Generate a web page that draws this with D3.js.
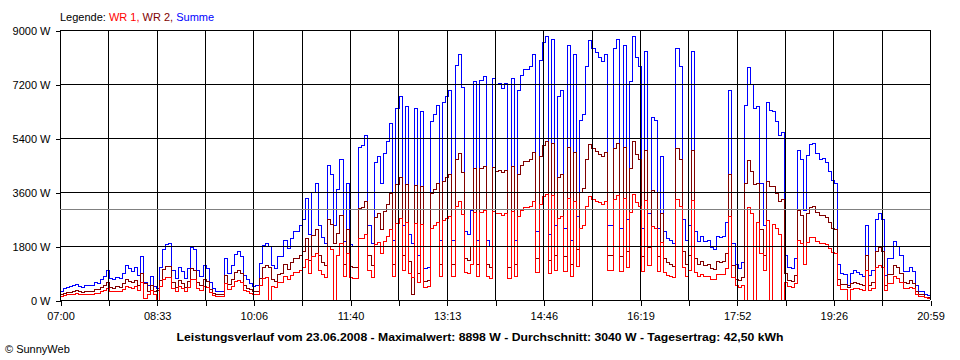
<!DOCTYPE html>
<html><head><meta charset="utf-8">
<script src="https://cdn.jsdelivr.net/npm/d3@7"></script>
<style>
html,body{margin:0;padding:0;background:#fff;}
svg{display:block;font-family:"Liberation Sans",Arial,sans-serif;}
</style></head><body>
<svg id="chart" width="960" height="360"></svg>
<script>
// ---- data ----
const stepMinutes = 3;            // sample interval, minutes after 07:00
const dayMinutes = 839;           // 07:00 .. 20:59
const xTickLabels = ["07:00","08:33","10:06","11:40","13:13","14:46","16:19","17:52","19:26","20:59"];
const yTicks = [0,1800,3600,5400,7200,9000];
const seriesNames = ["WR 1","WR 2","Summe"];
const average = 3040;
const titleText = "Leistungsverlauf vom 23.06.2008 - Maximalwert: 8898 W - Durchschnitt: 3040 W - Tagesertrag: 42,50 kWh";

const wr1 = [110,150,170,180,190,210,180,170,200,200,
200,230,220,280,320,400,290,270,300,290,
360,460,420,380,440,330,580,50,200,310,
180,0,440,680,740,750,400,290,440,380,
290,420,700,670,400,310,460,420,240,160,
110,110,110,550,360,460,610,640,580,330,
270,220,180,200,490,730,760,0,460,420,
580,580,800,690,820,910,920,1000,1080,1360,
880,1440,1560,1000,840,760,1800,1680,0,1480,
1880,780,1560,740,710,720,2040,2060,2200,1000,
760,1840,1920,1560,1960,2120,2360,800,2560,2710,
1000,2580,870,760,2560,600,2510,420,440,2380,
2470,2600,800,2640,2710,2800,800,3130,3270,2840,
920,880,1200,2910,800,2930,2980,800,720,2960,
2870,2890,2820,2890,720,2960,800,2800,3000,3080,
3080,3120,3280,920,3200,3440,3520,880,3480,1000,
2720,2800,960,3400,800,3280,1120,2400,2480,3120,
3460,3360,3300,3240,3180,3280,1000,1000,3360,3480,
960,3400,1080,2920,3520,3240,3120,960,3320,1160,
2440,2400,960,1920,910,820,800,760,3360,3120,
1080,800,1000,3320,920,780,850,780,800,700,
680,840,840,840,1040,2800,760,470,420,500,
0,3100,2870,0,2580,1560,1000,2640,0,2510,
2380,2200,0,600,440,420,560,2000,1880,1200,
1930,2070,2090,1960,1880,1890,1840,1720,1600,1560,
470,360,340,0,360,400,370,340,310,1000,
330,400,1080,1160,1080,330,560,560,780,710,
600,380,380,430,380,200,120,120,70,60,
10];

const wr2 = [170,230,250,260,280,310,270,250,300,300,
300,350,340,410,480,600,430,400,440,430,
540,690,630,570,650,500,880,550,300,470,
270,330,660,1020,1110,1130,600,430,660,560,
430,630,1050,1000,600,470,700,630,360,230,
170,170,170,830,530,700,920,970,880,500,
400,340,270,300,730,1100,1140,1070,700,630,
860,870,1200,1030,1240,1370,1380,1500,1620,2040,
1320,2160,2340,1500,1260,1140,2700,2520,1900,2220,
2820,1170,2340,1110,1070,1080,3060,3090,3300,1500,
1140,2760,2880,2340,2940,3180,3540,1200,3840,4070,
1500,3860,1300,200,3830,900,3770,630,660,3560,
3700,3900,1200,3960,4070,4200,1200,4700,4900,4260,
1380,1320,1800,4370,1200,4400,4460,1200,1080,4430,
4300,4330,4240,4330,1080,4440,1200,4200,4500,4620,
4620,4680,4920,1380,4800,5160,5280,1320,5220,1500,
4080,4200,1440,5100,1200,4920,1680,3600,3720,4680,
5190,5040,4950,4860,4770,4920,1500,1500,5040,5220,
1440,5100,1620,4380,5280,4860,4680,1440,4980,1740,
3660,3600,1440,2880,1370,1240,1200,1130,5040,4680,
1620,1200,1500,4980,1380,1170,1270,1160,1200,1050,
1020,1270,1260,1270,1560,4200,1140,700,640,750,
3900,4650,4300,3840,3870,2340,1500,3960,3800,3770,
3560,3300,3360,900,660,630,830,3000,2820,1800,
2900,3100,3130,2930,2820,2830,2760,2580,2400,2340,
700,530,520,420,540,600,550,520,470,1500,
500,600,1620,1740,1620,500,840,840,1160,1070,
900,570,560,650,560,300,180,180,100,80,
20];

const summe = [280,380,420,440,470,520,450,420,500,500,
500,580,560,690,800,1000,720,670,740,720,
900,1150,1050,950,1090,830,1460,600,500,780,
450,390,1100,1700,1850,1880,1000,720,1100,940,
720,1050,1750,1670,1000,780,1160,1050,600,390,
280,280,280,1380,890,1160,1530,1610,1460,830,
670,560,450,500,1220,1830,1900,1780,1160,1050,
1440,1450,2000,1720,2060,2280,2300,2500,2700,3400,
2200,3600,3900,2500,2100,1900,4500,4200,2500,3700,
4700,1950,3900,1850,1780,1800,5100,5150,5500,2500,
1900,4600,4800,3900,4900,5300,5900,2000,6400,6780,
2500,6440,2170,1900,6390,1500,6280,1050,1100,5940,
6170,6500,2000,6600,6780,7000,2000,7830,8170,7100,
2300,2200,3000,7280,2000,7330,7440,2000,1800,7390,
7170,7220,7060,7220,1800,7400,2000,7000,7500,7700,
7700,7800,8200,2300,8000,8600,8800,2200,8700,2500,
6800,7000,2400,8500,2000,8200,2800,6000,6200,7800,
8650,8400,8250,8100,7950,8200,2500,2500,8400,8700,
2400,8500,2700,7300,8800,8100,7800,2400,8300,2900,
6100,6000,2400,4800,2280,2060,2000,1890,8400,7800,
2700,2000,2500,8300,2300,1950,2120,1940,2000,1750,
1700,2110,2100,2110,2600,7000,1900,1170,1060,1250,
6500,7750,7170,6400,6450,3900,2500,6600,6330,6280,
5940,5500,5600,1500,1100,1050,1390,5000,4700,3000,
4830,5170,5220,4890,4700,4720,4600,4300,4000,3900,
1170,890,860,500,900,1000,920,860,780,2500,
830,1000,2700,2900,2700,830,1400,1400,1940,1780,
1500,950,940,1080,940,500,300,300,170,140,
30];

// ---- layout ----
const svg = d3.select("#chart");
const L = 60, R = 930, T = 30, B = 300;
const x = d3.scaleLinear().domain([0, dayMinutes]).range([L, R]);
const y = d3.scaleLinear().domain([0, 9000]).range([B, T]);
const gridTimes = d3.range(19).map(k => k * dayMinutes / 18);

svg.append("rect").attr("width",960).attr("height",360).attr("fill","#fff");

svg.append("defs").append("clipPath").attr("id","plot")
  .append("rect").attr("x",L).attr("y",T).attr("width",R-L+1).attr("height",B-T+1);

const line = d3.line()
  .x((d,i) => x(i*stepMinutes))
  .y(d => y(d))
  .curve(d3.curveStepAfter);

const dataG = svg.append("g").attr("clip-path","url(#plot)");
[[summe,"#0000ff"],[wr2,"#800000"],[wr1,"#ff0000"]].forEach(([s,c]) => {
  dataG.append("path").datum(s)
    .attr("d", line)
    .attr("fill","none").attr("stroke",c).attr("stroke-width",1)
    .attr("shape-rendering","crispEdges");
});

// grid (drawn over the data as in the reference)
const grid = svg.append("g").attr("shape-rendering","crispEdges").attr("stroke","#000").attr("stroke-width",1);
yTicks.forEach(v => grid.append("line")
  .attr("x1",L).attr("x2",R).attr("y1",Math.round(y(v))+0.5).attr("y2",Math.round(y(v))+0.5));
gridTimes.forEach(t => grid.append("line")
  .attr("x1",Math.round(x(t))+0.5).attr("x2",Math.round(x(t))+0.5).attr("y1",T).attr("y2",B));

// average line
svg.append("line").attr("x1",L).attr("x2",R)
  .attr("y1",Math.round(y(average))+0.5).attr("y2",Math.round(y(average))+0.5)
  .attr("stroke","#808080").attr("stroke-width",1).attr("shape-rendering","crispEdges");

// axes
const yAxis = d3.axisLeft(y).tickValues(yTicks).tickSize(5).tickPadding(5)
  .tickFormat(d => d + " W");
const yg = svg.append("g").attr("transform",`translate(${L+0.5},0.5)`).call(yAxis);
yg.select(".domain").remove();
yg.selectAll("line").attr("stroke","#000").attr("shape-rendering","crispEdges");
yg.selectAll("text").attr("font-size","11px").attr("fill","#000")
  .attr("font-family",'"Liberation Sans",Arial,sans-serif');

const xAxis = d3.axisBottom(x).tickValues(gridTimes).tickSize(5).tickPadding(7)
  .tickFormat((d,i) => i % 2 === 0 ? xTickLabels[i/2] : "");
const xg = svg.append("g").attr("transform",`translate(0.5,${B+0.5})`).call(xAxis);
xg.select(".domain").remove();
xg.selectAll("line").attr("stroke","#000").attr("shape-rendering","crispEdges");
xg.selectAll("text").attr("font-size","11px").attr("fill","#000")
  .attr("font-family",'"Liberation Sans",Arial,sans-serif');

// legend
const colors = ["#ff0000","#800000","#0000ff"];
const leg = svg.append("text").attr("x",60).attr("y",21).attr("font-size","11px");
leg.append("tspan").attr("fill","#000").text("Legende: ");
seriesNames.forEach((n,i) => leg.append("tspan").attr("fill",colors[i])
  .text(n + (i < seriesNames.length-1 ? ", " : "")));

// title and footer
svg.append("text").attr("x",480).attr("y",341).attr("text-anchor","middle")
  .attr("font-size","11px").attr("font-weight","bold").attr("fill","#000")
  .attr("textLength",607).attr("lengthAdjust","spacingAndGlyphs")
  .text(titleText);
svg.append("text").attr("x",5).attr("y",353).attr("font-size","11px").attr("fill","#000")
  .text("© SunnyWeb");
</script>
</body></html>
